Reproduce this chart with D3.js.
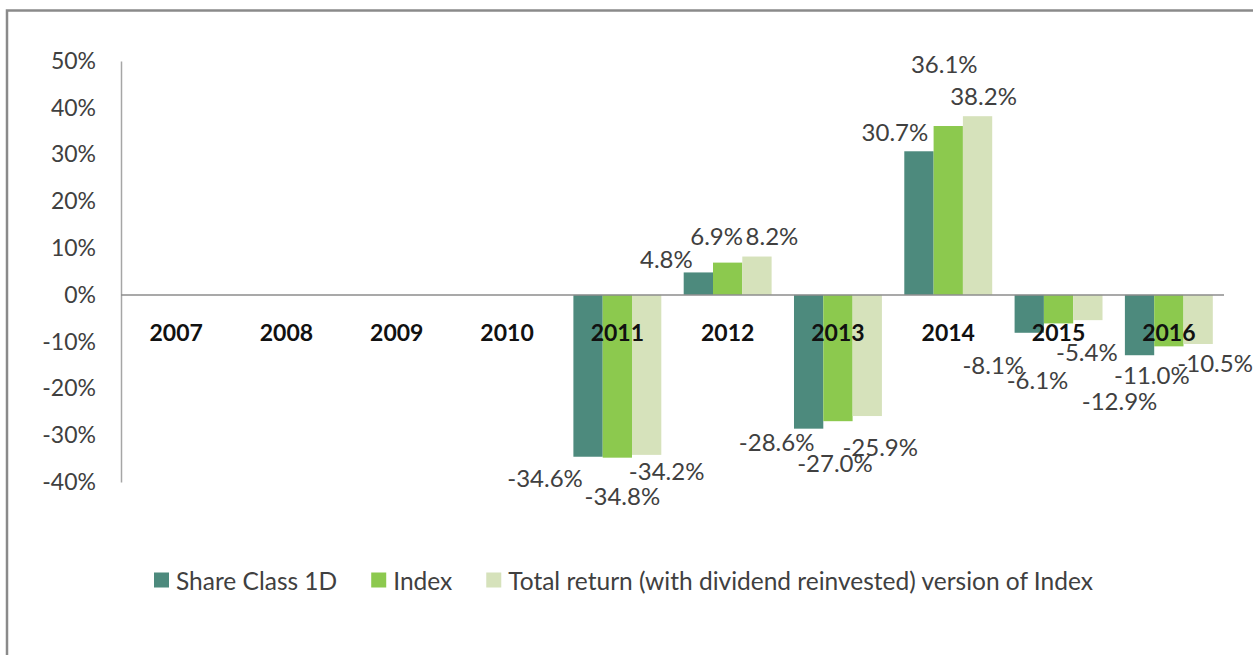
<!DOCTYPE html>
<html>
<head>
<meta charset="utf-8">
<script src="https://cdn.jsdelivr.net/npm/d3@7"></script>
<style>
  html, body { margin: 0; padding: 0; background: #fff; }
  svg { display: block; }
  text { font-family: Lato, "Open Sans", sans-serif; }
</style>
</head>
<body>
<svg id="chart" width="1253" height="655"></svg>
<script>
// ---- data ----
const years = ["2007","2008","2009","2010","2011","2012","2013","2014","2015","2016"];
const seriesNames = ["Share Class 1D", "Index", "Total return (with dividend reinvested) version of Index"];
const shareClass1D = [null, null, null, null, -34.6, 4.8, -28.6, 30.7, -8.1, -12.9];
const indexValues  = [null, null, null, null, -34.8, 6.9, -27.0, 36.1, -6.1, -11.0];
const totalReturn  = [null, null, null, null, -34.2, 8.2, -25.9, 38.2, -5.4, -10.5];
const yTicks = [50, 40, 30, 20, 10, 0, -10, -20, -30, -40];

// ---- layout / style (kept separate from data) ----
const colors = ["#4d8a7d", "#8cc94e", "#d6e2bb"];
// manual label nudges (dx, dy from bar end), mimicking hand-placed labels in the source
const labelNudge = [
  // share class
  [null,null,null,null,[-43,21],[-32,-14],[-32,13],[-24,-20],[-36,32],[-20,45]],
  // index
  [null,null,null,null,[5,38],[-11,-27],[-3,41],[-4,-63],[-21,56],[-17,28]],
  // total return
  [null,null,null,null,[20,16],[15,-21],[13,30],[6,-21],[-1,31],[17,18]]
];

const svg = d3.select("#chart");
svg.append("rect").attr("width", 1253).attr("height", 655).attr("fill", "#fff");
// outer frame (top and left visible)
svg.append("path").attr("d", "M7,655 L7,10.5 L1253,10.5")
  .attr("fill", "none").attr("stroke", "#8a8a8a").attr("stroke-width", 2.5);

const plotLeft = 121, plotRight = 1224, plotTop = 61, plotBottom = 482;
const y = d3.scaleLinear().domain([-40, 50]).range([plotBottom, plotTop]);
const x0 = d3.scaleBand().domain(years).range([plotLeft, plotRight]).padding(0);
const x1 = d3.scaleBand().domain(d3.range(3)).range([0, x0.bandwidth()])
  .paddingInner(0).paddingOuter(0.382);

const allSeries = [shareClass1D, indexValues, totalReturn];

// y axis
const yAxis = d3.axisLeft(y).tickValues(yTicks).tickSize(0).tickPadding(25)
  .tickFormat(d => d + "%");
const gy = svg.append("g").attr("transform", `translate(${plotLeft},0)`).call(yAxis);
gy.select(".domain").attr("stroke", "#a6a6a6").attr("stroke-width", 1.5);
gy.selectAll("text").attr("font-size", 23).attr("fill", "#404040")
  .attr("font-family", "Lato, sans-serif");

// bars
allSeries.forEach((vals, si) => {
  svg.append("g").selectAll("rect")
    .data(years.map((yr, i) => ({ yr, v: vals[i] })).filter(d => d.v != null))
    .join("rect")
    .attr("x", d => x0(d.yr) + x1(si))
    .attr("width", x1.bandwidth())
    .attr("y", d => y(Math.max(0, d.v)))
    .attr("height", d => Math.abs(y(d.v) - y(0)))
    .attr("fill", colors[si]);
});

// zero line
svg.append("line").attr("x1", plotLeft).attr("x2", plotRight)
  .attr("y1", y(0)).attr("y2", y(0))
  .attr("stroke", "#8c8c8c").attr("stroke-width", 1.5);

// category labels (next to axis)
svg.append("g").selectAll("text").data(years).join("text")
  .attr("x", d => x0(d) + x0.bandwidth() / 2)
  .attr("y", y(0) + 37)
  .attr("text-anchor", "middle").attr("dominant-baseline", "central")
  .attr("font-size", 23).attr("font-weight", "bold").attr("fill", "#111")
  .text(d => d);

// data labels
allSeries.forEach((vals, si) => {
  svg.append("g").selectAll("text")
    .data(years.map((yr, i) => ({ yr, i, v: vals[i] })).filter(d => d.v != null))
    .join("text")
    .attr("x", d => x0(d.yr) + x1(si) + x1.bandwidth() / 2 + labelNudge[si][d.i][0])
    .attr("y", d => y(d.v) + labelNudge[si][d.i][1])
    .attr("text-anchor", "middle").attr("dominant-baseline", "central")
    .attr("font-size", 24).attr("fill", "#404040")
    .text(d => d.v.toFixed(1) + "%");
});

// legend
const legend = svg.append("g").attr("transform", "translate(154,580)");
let lx = 0;
seriesNames.forEach((name, si) => {
  const g = legend.append("g").attr("transform", `translate(${lx},0)`);
  g.append("rect").attr("x", 0).attr("y", -7.5).attr("width", 15).attr("height", 15)
    .attr("fill", colors[si]);
  const t = g.append("text").attr("x", 22).attr("y", 0)
    .attr("dominant-baseline", "central").attr("font-size", 24.5).attr("fill", "#404040")
    .text(name);
  lx += 22 + t.node().getComputedTextLength() + 34;
});
</script>
</body>
</html>
